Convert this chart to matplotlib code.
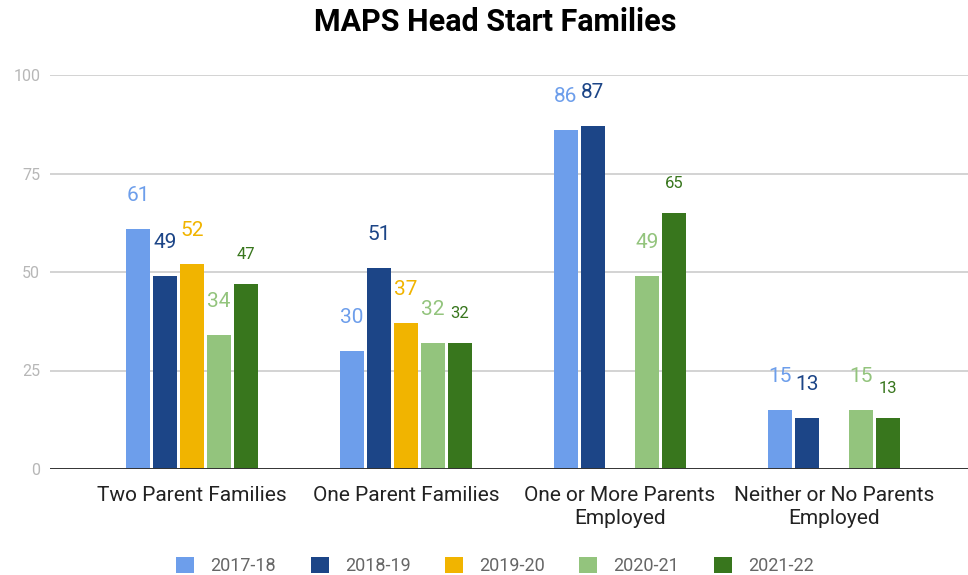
import matplotlib
matplotlib.use('Agg')
import matplotlib.pyplot as plt
import numpy as np
from matplotlib.patches import Patch

plt.rcParams['font.family'] = ['Roboto', 'DejaVu Sans']

categories = ['Two Parent Families', 'One Parent Families',
              'One or More Parents\nEmployed', 'Neither or No Parents\nEmployed']
series = ['2017-18', '2018-19', '2019-20', '2020-21', '2021-22']
v_2017_18 = [61, 30, 86, 15]
v_2018_19 = [49, 51, 87, 13]
v_2019_20 = [52, 37, np.nan, np.nan]
v_2020_21 = [34, 32, 49, 15]
v_2021_22 = [47, 32, 65, 13]
values = [v_2017_18, v_2018_19, v_2019_20, v_2020_21, v_2021_22]
y_ticks = [0, 25, 50, 75, 100]

colors = ['#6d9eeb', '#1c4587', '#f1b400', '#93c47d', '#38761d']
label_sizes = [15, 15, 15, 15, 12]

fig = plt.figure(figsize=(9.68, 5.75), dpi=100)
ax = fig.add_axes([50 / 968, 106 / 575, 918 / 968, 394 / 575])

x = np.arange(len(categories))
stride = 27 / 214
width = 24 / 214

for i, (name, vals) in enumerate(zip(series, values)):
    xs = x + (i - 2) * stride
    ax.bar(xs, vals, width=width, color=colors[i], zorder=3, label=name)
    for xi, v in zip(xs, vals):
        if np.isnan(v):
            continue
        ax.annotate(str(int(v)), (xi, v), xytext=(0, 24 if i < 4 else 21),
                    textcoords='offset points', ha='center', va='center',
                    color=colors[i], fontsize=label_sizes[i])

ax.set_xlim(-142 / 214, 776 / 214)
ax.set_ylim(0, 100)
ax.set_yticks(y_ticks)
ax.set_yticklabels([str(t) for t in y_ticks])
ax.tick_params(axis='y', length=0, pad=7, labelsize=11.5, labelcolor='#b7b7b7')
ax.set_xticks(x)
ax.set_xticklabels(categories, linespacing=1.3)
ax.tick_params(axis='x', length=0, pad=12, labelsize=15, labelcolor='#222222')

for t in y_ticks[1:]:
    ax.axhline(t, color='#cccccc', lw=1.2, zorder=1)
ax.axhline(0, color='#333333', lw=1.4, zorder=4)

for s in ax.spines.values():
    s.set_visible(False)

fig.text(495 / 968, 1 - 22 / 575, 'MAPS Head Start Families',
         ha='center', va='center', fontsize=22, fontweight='bold', color='#000000')

handles = [Patch(facecolor=c, edgecolor='none') for c in colors]
fig.legend(handles, series, loc='center', bbox_to_anchor=(495 / 968, 1 - 566 / 575),
           ncol=5, frameon=False, fontsize=13, labelcolor='#666666',
           handlelength=1.0, handleheight=1.0, handletextpad=0.9,
           columnspacing=1.9)

fig.savefig('out.png', dpi=100)
